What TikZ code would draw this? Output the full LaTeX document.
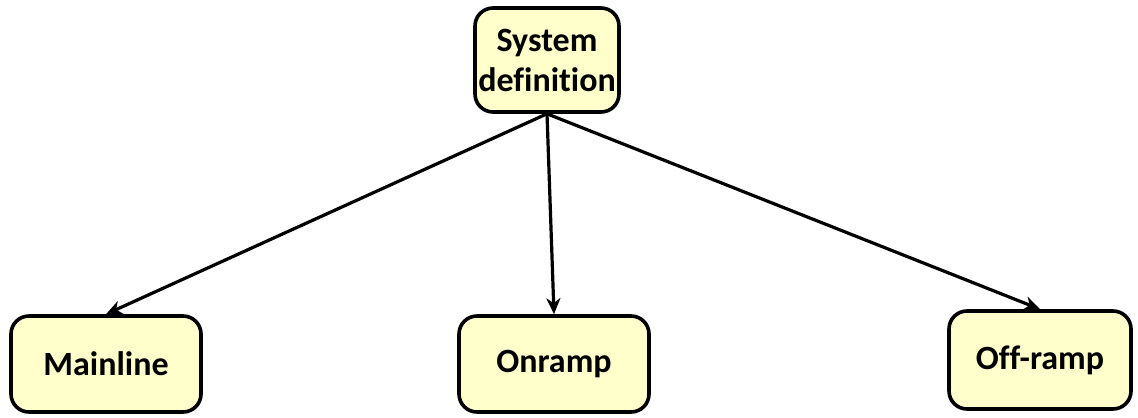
\documentclass[tikz,border=0pt]{standalone}
\usepackage{fontspec}
\setmainfont{Carlito}[Ligatures=NoCommon]
\usetikzlibrary{arrows.meta}
\definecolor{boxyellow}{HTML}{FFFFCC}
\tikzset{
  stagebox/.style={draw, line width=1.8pt, rounded corners=9pt, fill=boxyellow,
    font=\bfseries\fontsize{17}{20}\selectfont, align=center, inner sep=0pt},
  branch/.style={-{Stealth[length=8pt,width=7pt,inset=2.5pt]}, line width=1.6pt}
}

\begin{document}
\begin{tikzpicture}[x=0.5pt,y=-0.5pt]
  \useasboundingbox (0,0) rectangle (1138,417);
  % Top level
  \node[stagebox, minimum width=72pt, minimum height=52pt] (sysdef) at (547,60) {System\\definition};
  % Sub-systems
  \node[stagebox, minimum width=95pt, minimum height=48pt] (mainline) at (106,364) {Mainline};
  \node[stagebox, minimum width=95pt, minimum height=48pt] (onramp) at (554,364) {Onramp};
  \node[stagebox, minimum width=91pt, minimum height=49pt] (offramp) at (1040,360) {Off-ramp};
  % Branches
  \draw[branch] (sysdef.south) -- (mainline.north);
  \draw[branch] (sysdef.south) -- (onramp.north);
  \draw[branch] (sysdef.south) -- (offramp.north);
\end{tikzpicture}
\end{document}
